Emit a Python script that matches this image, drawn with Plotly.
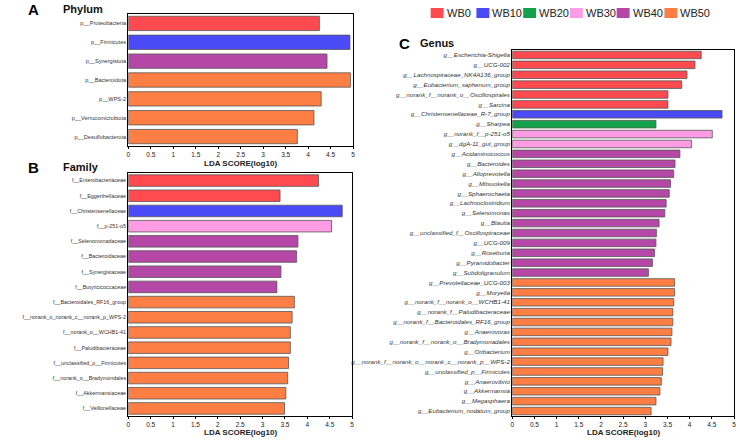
import plotly.graph_objects as go

W, H = 740, 440

group_names = ["WB0", "WB10", "WB20", "WB30", "WB40", "WB50"]
group_colors = ["#FF4B4F", "#4A4AF7", "#13A24B", "#FF9CE3", "#B548A6", "#FF7E44"]

phylum_names = ["p__Proteobacteria", "p__Firmicutes", "p__Synergistota", "p__Bacteroidota",
                "p__WPS-2", "p__Verrucomicrobiota", "p__Desulfobacterota"]
phylum_scores = [4.25, 4.93, 4.42, 4.94, 4.29, 4.13, 3.76]
phylum_groups = ["WB0", "WB10", "WB40", "WB50", "WB50", "WB50", "WB50"]

family_names = ["f__Enterobacteriaceae", "f__Eggerthellaceae", "f__Christensenellaceae", "f__p-251-o5",
                "f__Selenomonadaceae", "f__Bacteroidaceae", "f__Synergistaceae", "f__Butyricicoccaceae",
                "f__Bacteroidales_RF16_group", "f__norank_o_norank_c__norank_p_WPS-2", "f__norank_o__WCHB1-41",
                "f__Paludibacteraceae", "f__unclassified_p__Firmicutes", "f__norank_o__Bradymondales",
                "f__Akkermansiaceae", "f__Veillonellaceae"]
family_scores = [4.25, 3.39, 4.78, 4.54, 3.79, 3.76, 3.41, 3.32,
                 3.71, 3.66, 3.62, 3.62, 3.58, 3.56, 3.52, 3.49]
family_groups = ["WB0", "WB0", "WB10", "WB30", "WB40", "WB40", "WB40", "WB40",
                 "WB50", "WB50", "WB50", "WB50", "WB50", "WB50", "WB50", "WB50"]

genus_names = ["g__Escherichia-Shigella", "g__UCG-002", "g__Lachnospiraceae_NK4A136_group",
               "g__Eubacterium_saphenum_group", "g__norank_f__norank_o__Oscillospirales", "g__Sarcina",
               "g__Christensenellaceae_R-7_group", "g__Sharpea", "g__norank_f__p-251-o5", "g__dgA-11_gut_group",
               "g__Acidaminococcus", "g__Bacteroides", "g__Alloprevotella", "g__Mitsuokella", "g__Sphaerochaeta",
               "g__Lachnoclostridium", "g__Selenomonas", "g__Blautia", "g__unclassified_f__Oscillospiraceae",
               "g__UCG-009", "g__Roseburia", "g__Pyramidobacter", "g__Subdoligranulum",
               "g__Prevotellaceae_UCG-003", "g__Moryella", "g__norank_f__norank_o__WCHB1-41",
               "g__norank_f__Paludibacteraceae", "g__norank_f__Bacteroidales_RF16_group", "g__Anaerovorax",
               "g__norank_f__norank_o__Bradymonadales", "g__Oribacterium",
               "g__norank_f__norank_o__norank_c__norank_p__WPS-2", "g__unclassified_p__Firmicutes",
               "g__Anaerovibrio", "g__Akkermansia", "g__Megasphaera", "g__Eubacterium_nodatum_group"]
genus_scores = [4.26, 4.12, 3.94, 3.82, 3.51, 3.51, 4.73, 3.24, 4.51, 4.04,
                3.78, 3.67, 3.64, 3.57, 3.54, 3.47, 3.44, 3.31, 3.25, 3.24, 3.21, 3.16, 3.07,
                3.66, 3.66, 3.64, 3.62, 3.62, 3.60, 3.58, 3.51, 3.40, 3.39, 3.36, 3.33, 3.24, 3.13]
genus_groups = ["WB0"] * 6 + ["WB10", "WB20", "WB30", "WB30"] + ["WB40"] * 13 + ["WB50"] * 14

x_ticks = [0, 0.5, 1, 1.5, 2, 2.5, 3, 3.5, 4, 4.5, 5]
x_title = "LDA SCORE(log10)"

FONT = "Liberation Sans, Arial, sans-serif"
cmap = dict(zip(group_names, group_colors))


def px(x):
    return x / W


def py(y):
    return 1 - y / H


fig = go.Figure()

panels = [
    ("x", "y", phylum_names, phylum_scores, phylum_groups),
    ("x2", "y2", family_names, family_scores, family_groups),
    ("x3", "y3", genus_names, genus_scores, genus_groups),
]
for xa, ya, names, scores, groups in panels:
    fig.add_trace(go.Bar(
        x=scores, y=names, orientation="h", xaxis=xa, yaxis=ya,
        marker=dict(color=[cmap[g] for g in groups], line=dict(color="#555555", width=0.8)),
        width=0.76, showlegend=False, hoverinfo="x+y",
    ))


def xax(dom, anchor):
    return dict(domain=dom, anchor=anchor, range=[0, 5], tickmode="array", tickvals=x_ticks,
                ticktext=[("%g" % t) for t in x_ticks],
                ticks="outside", ticklen=2, tickwidth=1, tickcolor="black",
                tickfont=dict(size=6.5, color="#222", family=FONT),
                showline=True, mirror=True, linecolor="black", linewidth=1.2,
                showgrid=False, zeroline=False, fixedrange=True)


def yax(dom, anchor, names, size, ital):
    return dict(domain=dom, anchor=anchor, type="category", autorange="reversed",
                tickmode="array", tickvals=names,
                ticktext=[("<i>%s</i>" % n) if ital else n for n in names],
                tickfont=dict(size=size, color="#333", family=FONT),
                showline=True, mirror=True, linecolor="black", linewidth=1.2,
                showgrid=False, zeroline=False, ticks="", fixedrange=True)


fig.update_layout(
    width=W, height=H, margin=dict(l=0, r=0, t=0, b=0),
    paper_bgcolor="white", plot_bgcolor="white", font=dict(family=FONT),
    bargap=0.2,
    xaxis=xax([px(127), px(353)], "y"),
    yaxis=yax([py(146), py(14)], "x", phylum_names, 5.6, False),
    xaxis2=xax([px(127), px(352)], "y2"),
    yaxis2=yax([py(416), py(173)], "x2", family_names, 5.4, False),
    xaxis3=xax([px(513), px(736)], "y3"),
    yaxis3=yax([py(416), py(50)], "x3", genus_names, 6.2, True),
)

# x axis titles
for cx, cy in [(240, 163), (240, 432), (625, 432)]:
    fig.add_annotation(x=px(cx), y=py(cy), xref="paper", yref="paper", text="<b>%s</b>" % x_title,
                       showarrow=False, xanchor="center", yanchor="middle",
                       font=dict(size=8, color="#222", family=FONT))

# panel letters and titles
for letter, lx, title, tx, ty in [("A", 32, "Phylum", 59, 9), ("B", 32, "Family", 59, 167),
                                  ("C", 405, "Genus", 418, 43)]:
    fig.add_annotation(x=px(lx), y=py(ty), xref="paper", yref="paper", text="<b>%s</b>" % letter,
                       showarrow=False, xanchor="center", yanchor="middle",
                       font=dict(size=15, color="black", family=FONT))
    fig.add_annotation(x=px(tx), y=py(ty), xref="paper", yref="paper", text="<b>%s</b>" % title,
                       showarrow=False, xanchor="left", yanchor="middle",
                       font=dict(size=11, color="#111", family=FONT))

# legend
legend_x = [431, 477, 524, 571, 618, 666]
for gx, name, col in zip(legend_x, group_names, group_colors):
    fig.add_shape(type="rect", xref="paper", yref="paper", x0=px(gx), x1=px(gx + 13),
                  y0=py(18), y1=py(8), fillcolor=col, line=dict(width=0))
    fig.add_annotation(x=px(gx + 14), y=py(13), xref="paper", yref="paper", text=name,
                       showarrow=False, xanchor="left", yanchor="middle",
                       font=dict(size=11, color="#222", family=FONT))

fig.write_html("out.html", config={"displayModeBar": False},
               post_script="document.body.style.margin='0px';document.body.style.overflow='hidden';")
